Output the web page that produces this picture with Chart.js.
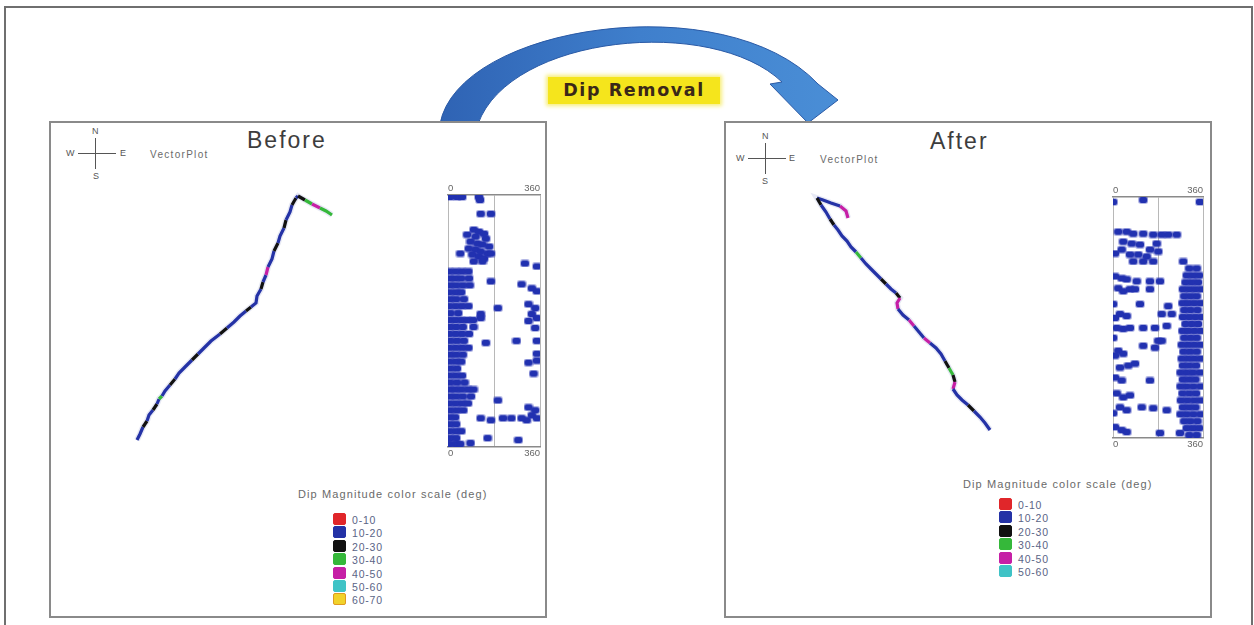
<!DOCTYPE html>
<html lang="en">
  <head>
    <meta charset="UTF-8" />
    <title>Dip Removal - Before / After</title>
    <script src="https://cdn.jsdelivr.net/npm/chart.js"></script>
    <style>
      body {
        margin: 0;
        background: #fff;
        font-family: "Liberation Sans", Arial, sans-serif;
        width: 1254px;
        height: 625px;
        position: relative;
        overflow: hidden;
      }
      .abs {
        position: absolute;
      }
      .frame {
        left: 4px;
        top: 6px;
        width: 1245px;
        height: 630px;
        border: 2px solid #6f6f6f;
      }
      .panel {
        border: 2px solid #8a8a8a;
        background: #fff;
      }
      .title {
        font-size: 23px;
        color: #3d3d3d;
        letter-spacing: 2px;
      }
      .small {
        font-size: 10px;
        color: #6a6a6a;
        letter-spacing: 1.3px;
      }
      .compass span {
        position: absolute;
        font-size: 9px;
        color: #555;
      }
      .compass i {
        position: absolute;
        background: #555;
      }
      .badge {
        left: 548px;
        top: 77px;
        width: 172px;
        height: 27px;
        background: #f5e51c;
        box-shadow: 0 0 4px 2px #f7ee7a;
        font-family: "DejaVu Sans", sans-serif;
        font-weight: bold;
        font-size: 17.5px;
        color: #3a2818;
        text-align: center;
        line-height: 27px;
        letter-spacing: 1.6px;
      }
      .legend-title {
        font-size: 11px;
        color: #6a6a6a;
        letter-spacing: 1.1px;
        white-space: nowrap;
      }
      .legend-row {
        position: absolute;
        height: 12px;
        font-size: 10.5px;
        color: #5a6486;
        letter-spacing: 0.8px;
        white-space: nowrap;
      }
      .legend-row b {
        display: inline-block;
        width: 11px;
        height: 10px;
        margin-right: 6px;
        vertical-align: -1px;
        border-radius: 2px;
      }
      canvas {
        position: absolute;
      }
    </style>
  </head>
  <body>
    <div class="abs frame"></div>

    <!-- curved arrow -->
    <svg class="abs" style="left:0;top:0" width="1254" height="625">
      <defs>
        <linearGradient id="arrowFill" x1="0" y1="0" x2="1" y2="0">
          <stop offset="0" stop-color="#2f63b4" />
          <stop offset="0.5" stop-color="#3f7fcc" />
          <stop offset="1" stop-color="#4a8ed6" />
        </linearGradient>
      </defs>
      <path
        d="M440,124 C458,25 725,-15 818,84 L838,100 L808,123 L770,84 L782,82 C712,15 510,35 478,124 Z"
        fill="url(#arrowFill)"
        stroke="#2a5aa6"
        stroke-width="1"
      />
    </svg>
    <div class="abs badge">Dip Removal</div>

    <!-- panels -->
    <div class="abs panel" style="left:49px;top:121px;width:494px;height:493px"></div>
    <div class="abs panel" style="left:724px;top:121px;width:484px;height:493px"></div>

    <div class="abs title" style="left:247px;top:127px">Before</div>
    <div class="abs title" style="left:930px;top:128px">After</div>
    <div class="abs small" style="left:150px;top:149px">VectorPlot</div>
    <div class="abs small" style="left:820px;top:154px">VectorPlot</div>

    <div class="abs compass" style="left:66px;top:126px;width:60px;height:56px">
      <span style="left:26px;top:0">N</span>
      <span style="left:27px;top:45px">S</span>
      <span style="left:0;top:22px">W</span>
      <span style="left:54px;top:22px">E</span>
      <i style="left:29px;top:12px;width:1px;height:31px"></i>
      <i style="left:12px;top:27px;width:38px;height:1px"></i>
    </div>
    <div class="abs compass" style="left:736px;top:131px;width:60px;height:56px">
      <span style="left:26px;top:0">N</span>
      <span style="left:26px;top:45px">S</span>
      <span style="left:0;top:22px">W</span>
      <span style="left:53px;top:22px">E</span>
      <i style="left:29px;top:12px;width:1px;height:31px"></i>
      <i style="left:12px;top:27px;width:38px;height:1px"></i>
    </div>

    <canvas id="beforeVector" style="left:52px;top:124px" width="380" height="340"></canvas>
    <canvas id="afterVector" style="left:727px;top:124px" width="360" height="340"></canvas>
    <canvas id="beforeStrip" style="left:430px;top:172px" width="122" height="302"></canvas>
    <canvas id="afterStrip" style="left:1098px;top:174px" width="118" height="292"></canvas>

    <div class="abs legend-title" style="left:298px;top:488px">Dip Magnitude color scale (deg)</div>
    <div class="abs" id="beforeLegend" style="left:333px;top:513px"></div>
    <div class="abs legend-title" style="left:963px;top:478px">Dip Magnitude color scale (deg)</div>
    <div class="abs" id="afterLegend" style="left:999px;top:498px"></div>

    <script>
      // dip magnitude classes (deg) and their colours
      const dipClasses = ["0-10", "10-20", "20-30", "30-40", "40-50", "50-60", "60-70"];
      const dipColors = ["#e0262a", "#2432a6", "#111111", "#35b83a", "#c61fa6", "#3fc3c6", "#f1d22a"];
      const dipBorders = ["#e0262a", "#2432a6", "#111111", "#35b83a", "#c61fa6", "#3fc3c6", "#e09a20"];

      // vector plot traces: east / north offsets (ft) and dip class of each station
      const beforeEast = [0, 3, 6, 10, 12, 16, 20, 22, 25, 28, 33, 38, 42, 49, 55, 61, 68, 74, 83, 90, 97, 103, 109, 114, 119, 120, 124, 126, 129, 131, 135, 137, 141, 143, 147, 149, 153, 155, 159, 161, 168, 175, 183, 189, 195];
      const beforeNorth = [0, 6, 13, 19, 25, 30, 36, 41, 44, 49, 55, 61, 67, 74, 80, 86, 93, 99, 106, 112, 118, 124, 129, 133, 137, 144, 151, 158, 165, 173, 181, 189, 197, 204, 212, 220, 228, 235, 242, 244, 240, 236, 232, 229, 225];
      const beforeDip = [1, 1, 2, 1, 1, 2, 1, 3, 1, 1, 2, 1, 1, 1, 2, 1, 1, 1, 2, 1, 1, 1, 2, 1, 1, 1, 2, 1, 4, 1, 1, 2, 1, 1, 2, 1, 1, 2, 1, 2, 3, 4, 3, 3, 3];

      const afterEast = [31, 29, 23, 14, 6, 0, 4, 9, 13, 17, 21, 25, 30, 34, 39, 44, 49, 54, 59, 64, 69, 74, 79, 83, 80, 81, 86, 92, 97, 102, 107, 113, 119, 124, 128, 132, 136, 138, 136, 140, 145, 151, 157, 163, 168, 173];
      const afterNorth = [-20, -13, -8, -5, -2, 0, -7, -14, -21, -27, -32, -38, -43, -49, -54, -60, -66, -71, -76, -81, -86, -91, -95, -100, -105, -111, -117, -122, -128, -134, -140, -145, -150, -156, -163, -170, -177, -184, -191, -197, -202, -207, -213, -219, -225, -232];
      const afterDip = [4, 4, 1, 1, 1, 2, 1, 1, 2, 1, 1, 1, 1, 1, 3, 1, 1, 1, 1, 2, 1, 1, 2, 4, 4, 1, 1, 4, 1, 1, 4, 1, 1, 1, 2, 3, 2, 4, 1, 1, 1, 2, 1, 1, 1, 2];

      // azimuth (deg, 0-360) vs depth (ft below top of interval) for the tadpole strips
      const beforeAzimuth = [
        8, 35, 55, 121, 125, 128, 168,
        101, 121, 141, 75, 108, 148, 88, 115, 135, 161, 81, 108, 128, 155, 95, 121, 141, 101, 135, 48, 168,
        301, 348,
        5, 30, 55, 80, 5, 28, 52, 82, 8, 32, 58, 85, 5, 30, 52, 8, 32, 62, 5, 30, 55, 80, 10, 40,
        5, 28, 52, 75, 98, 8, 32, 58, 100, 5, 30, 55, 82, 10, 35, 62, 5, 30, 55, 80, 8, 32, 58,
        5, 30, 52, 10, 35, 5, 30, 55, 8, 35, 65, 5, 28, 52, 78, 100, 8, 32, 58, 90, 5, 30, 55, 78,
        10, 35, 60, 5, 28, 8, 32, 5, 30, 52, 8, 32, 5, 30, 48,
        288, 328, 348, 315, 341, 328, 348, 315, 341, 348, 315, 335, 315, 341, 328, 348, 308,
        195, 128, 128, 148, 268, 348, 348, 195, 128, 168, 215, 248, 288, 155, 275, 88, 168
      ];
      const beforeDepth = [
        0, 0, 0, 0, 3, 17, 17,
        33, 35, 37, 38, 40, 42, 45, 47, 48, 50, 52, 53, 55, 57, 58, 60, 62, 65, 65, 57, 57,
        67, 70,
        75, 75, 75, 75, 82, 82, 82, 82, 89, 89, 89, 89, 96, 96, 96, 103, 103, 103, 110, 110, 110, 110, 117, 117,
        124, 124, 124, 124, 124, 131, 131, 131, 131, 138, 138, 138, 138, 145, 145, 145, 152, 152, 152, 152, 159, 159, 159,
        166, 166, 166, 173, 173, 180, 180, 180, 187, 187, 187, 194, 194, 194, 194, 194, 201, 201, 201, 201, 208, 208, 208, 208,
        215, 215, 215, 222, 222, 229, 229, 236, 236, 236, 243, 243, 249, 249, 249,
        88, 92, 95, 108, 112, 118, 122, 125, 132, 165, 167, 178, 212, 215, 220, 223, 225,
        112, 118, 122, 147, 145, 145, 158, 205, 223, 225, 223, 223, 223, 243, 245, 248, 85
      ];

      const afterAzimuth = [
        21, 55, 81, 121, 161, 195, 221, 255, 41, 75, 108, 175, 35, 148, 181, 8, 68, 101, 135, 81, 121, 161, 121, 1, 348, 281,
        305, 335, 295, 320, 345, 290, 315, 340, 280, 305, 330, 355, 285, 310, 335, 278, 300, 325, 350,
        285, 310, 338, 280, 305, 330, 355, 290, 315, 340, 278, 300, 325, 350, 285, 310, 335,
        275, 300, 325, 350, 282, 308, 335, 275, 300, 325, 350, 280, 305, 332, 270, 295, 320, 348,
        280, 305, 330, 270, 295, 322, 350, 278, 305, 332, 272, 298, 325, 350, 280, 305, 330,
        270, 295, 322, 350, 285, 310, 338, 295, 320, 345, 305, 335,
        8, 35, 55, 21, 41, 68, 1, 28, 55, 8, 15, 41, 68, 1, 21, 41, 8, 28, 61, 8, 35, 15, 41, 68, 28, 55, 8, 35, 55, 1,
        95, 148, 188, 88, 148, 221, 195, 168, 121, 215, 181, 195, 168, 121, 88, 148, 115, 161, 215, 188, 268, 108, 235
      ];
      const afterDepth = [
        33, 33, 35, 35, 36, 36, 36, 36, 43, 45, 46, 45, 51, 51, 53, 55, 56, 56, 58, 63, 63, 63, 1, 3, 3, 63,
        70, 70, 77, 77, 77, 84, 84, 84, 91, 91, 91, 91, 98, 98, 98, 105, 105, 105, 105,
        112, 112, 112, 119, 119, 119, 119, 126, 126, 126, 133, 133, 133, 133, 140, 140, 140,
        147, 147, 147, 147, 154, 154, 154, 161, 161, 161, 161, 168, 168, 168, 175, 175, 175, 175,
        182, 182, 182, 189, 189, 189, 189, 196, 196, 196, 203, 203, 203, 203, 210, 210, 210,
        217, 217, 217, 217, 224, 224, 224, 231, 231, 231, 238, 238,
        78, 80, 81, 90, 93, 91, 106, 116, 118, 120, 130, 131, 130, 140, 153, 156, 158, 170, 168, 180, 183, 196, 200, 198, 210, 213, 230, 233, 235, 216,
        83, 83, 83, 91, 91, 108, 116, 130, 130, 128, 143, 143, 150, 148, 166, 183, 210, 211, 213, 236, 236, 106, 116
      ];

      const stripTicks = [0, 180, 360];

      function toPoints(xs, ys) {
        return xs.map((x, i) => ({ x: x, y: ys[i] }));
      }

      // small rounded blob used as the tadpole marker
      const blob = document.createElement("canvas");
      blob.width = 10;
      blob.height = 8;
      (function () {
        const c = blob.getContext("2d");
        c.fillStyle = "rgba(40,52,180,0.35)";
        c.beginPath();
        c.roundRect(0, 0, 10, 8, 3);
        c.fill();
        c.fillStyle = "#2131b0";
        c.beginPath();
        c.roundRect(1, 1, 8, 6, 2);
        c.fill();
      })();

      function makeVector(id, east, north, dip, xRange, yRange) {
        const pts = toPoints(east, north);
        new Chart(document.getElementById(id), {
          type: "line",
          data: {
            datasets: [
              {
                data: pts,
                borderWidth: 3.2,
                borderColor: dipColors[1],
                pointRadius: 0,
                tension: 0,
                segment: {
                  borderColor: (ctx) => dipColors[dip[ctx.p0DataIndex]],
                },
              },
              {
                // soft halo around the trace
                data: pts,
                borderWidth: 6,
                borderColor: "rgba(60,70,170,0.12)",
                pointRadius: 0,
                tension: 0,
              },
            ],
          },
          options: {
            responsive: false,
            animation: false,
            layout: { padding: 0 },
            plugins: { legend: { display: false }, tooltip: { enabled: false } },
            scales: {
              x: { type: "linear", display: false, min: xRange[0], max: xRange[1] },
              y: { type: "linear", display: false, min: yRange[0], max: yRange[1] },
            },
          },
        });
      }

      function makeStrip(id, az, depth, maxDepth, pad) {
        const axisTicks = {
          font: { size: 9.5, family: "Liberation Sans" },
          color: "#666",
          padding: 1,
          maxRotation: 0,
          autoSkip: false,
          align: "inner",
          callback: (v) => (v === 180 ? "" : v),
        };
        new Chart(document.getElementById(id), {
          type: "scatter",
          data: {
            datasets: [
              {
                data: toPoints(az, depth),
                pointStyle: blob,
              },
            ],
          },
          options: {
            responsive: false,
            animation: false,
            layout: { padding: pad },
            plugins: { legend: { display: false }, tooltip: { enabled: false } },
            scales: {
              x: {
                type: "linear",
                position: "top",
                min: 0,
                max: 360,
                afterBuildTicks: (s) => (s.ticks = stripTicks.map((v) => ({ value: v }))),
                afterFit: (s) => (s.height = 14),
                ticks: axisTicks,
                grid: { color: "#b8b8b8", lineWidth: 1, drawTicks: false },
                border: { color: "#8a8a8a", width: 1.5 },
              },
              x2: {
                type: "linear",
                position: "bottom",
                min: 0,
                max: 360,
                afterBuildTicks: (s) => (s.ticks = stripTicks.map((v) => ({ value: v }))),
                afterFit: (s) => (s.height = 12),
                ticks: axisTicks,
                grid: { display: false, drawTicks: false, tickLength: 0 },
                border: { color: "#8a8a8a", width: 1.5 },
              },
              y: { display: false, reverse: true, min: -2, max: maxDepth },
            },
          },
        });
      }

      function makeLegend(id, count) {
        const box = document.getElementById(id);
        dipClasses.slice(0, count).forEach((label, i) => {
          const row = document.createElement("div");
          row.className = "legend-row";
          row.style.top = Math.round(i * 13.4) + "px";
          row.innerHTML =
            '<b style="background:' + dipColors[i] + ";border:1px solid " + dipBorders[i] + '"></b>' + label;
          box.appendChild(row);
        });
      }

      makeVector("beforeVector", beforeEast, beforeNorth, beforeDip, [-85, 295], [-24, 316]);
      makeVector("afterVector", afterEast, afterNorth, afterDip, [-90, 270], [-266, 74]);
      makeStrip("beforeStrip", beforeAzimuth, beforeDepth, 252, { left: 18, right: 12, top: 9, bottom: 15 });
      makeStrip("afterStrip", afterAzimuth, afterDepth, 241, { left: 15, right: 13, top: 9, bottom: 16 });
      makeLegend("beforeLegend", 7);
      makeLegend("afterLegend", 6);
    </script>
  </body>
</html>
